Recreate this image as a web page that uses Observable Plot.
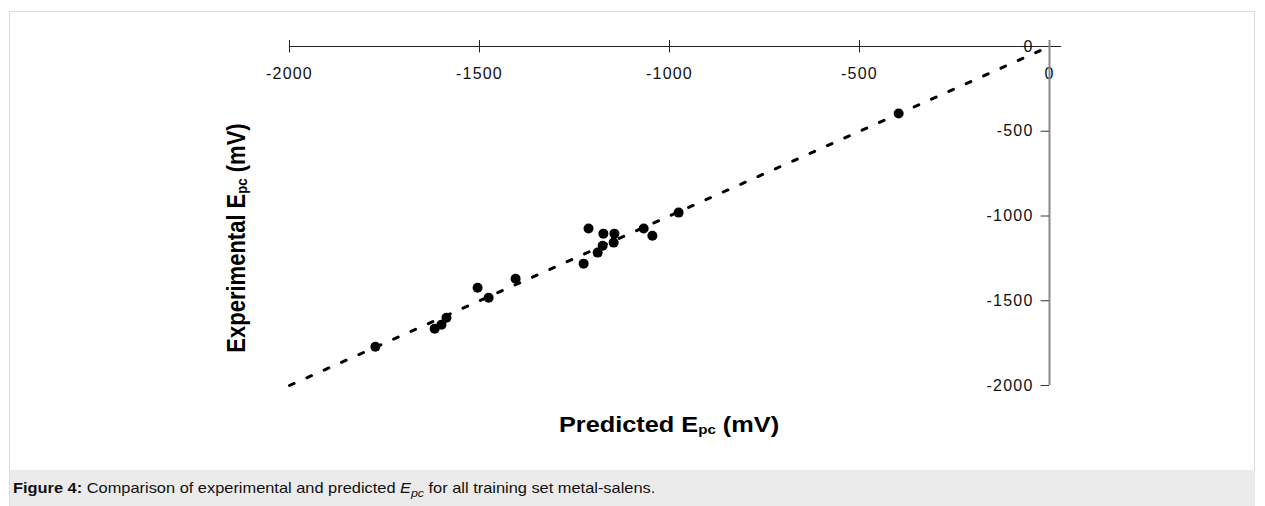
<!DOCTYPE html>
<html>
<head>
<meta charset="utf-8">
<script src="https://cdn.jsdelivr.net/npm/d3@7"></script>
<script src="https://cdn.jsdelivr.net/npm/@observablehq/plot@0.6"></script>
<style>
  html, body { margin: 0; padding: 0; background: #fff; }
  body { font-family: "Liberation Sans", Arial, sans-serif; }
  #wrap { position: relative; width: 1265px; height: 506px; overflow: hidden; }
  #frame { position: absolute; left: 9px; top: 11px; width: 1246px; height: 500px; border: 1px solid #dcdcdc; box-sizing: border-box; }
  #chart { position: absolute; left: 0; top: 0; }
  .axtitle { position: absolute; font-weight: bold; font-size: 22px; color: #000; white-space: nowrap; line-height: 1; }
  .axtitle sub { font-size: 0.6em; vertical-align: baseline; position: relative; top: 0.15em; }
  #xtitle { left: 669px; top: 425px; transform: translate(-50%, -50%) scaleX(1.15); }
  #ytitle { left: 237px; top: 238px; transform: translate(-50%, -50%) rotate(-90deg) scaleY(1.15); }
  #caption { position: absolute; left: 10px; top: 470px; width: 1245px; height: 36px; background: #ebebeb; box-sizing: border-box; }
  #captext { position: absolute; left: 3px; top: 10px; font-size: 14.5px; color: #111; white-space: nowrap; transform: scaleX(1.13); transform-origin: left center; }
  #captext sub { font-size: 0.75em; }
  svg text.tick { letter-spacing: 1.2px; }
</style>
</head>
<body>
<div id="wrap">
  <div id="frame"></div>
  <div id="chart"></div>
  <div class="axtitle" id="xtitle">Predicted E<sub>pc</sub> (mV)</div>
  <div class="axtitle" id="ytitle">Experimental E<sub>pc</sub> (mV)</div>
  <div id="caption"><div id="captext"><b>Figure 4:</b> Comparison of experimental and predicted <i>E<sub>pc</sub></i> for all training set metal-salens.</div></div>
</div>
<script>
// Predicted Epc (mV) — x values
const predicted = [-1774, -1618, -1600, -1587, -1505, -1476, -1405, -1226, -1213, -1174, -1145, -1147, -1176, -1189, -1068, -1045, -976, -397];
// Experimental Epc (mV) — y values
const experimental = [-1771, -1665, -1641, -1600, -1423, -1482, -1370, -1281, -1074, -1104, -1104, -1157, -1175, -1216, -1074, -1116, -980, -395];
// Axis ticks
const xTicks = [-2000, -1500, -1000, -500, 0];
const yTicks = [-2000, -1500, -1000, -500, 0];
// Identity (y = x) reference line end points
const identity = [-2000, 0];

const points = predicted.map((p, i) => ({ predicted: p, experimental: experimental[i] }));

const W = 1265, H = 470;
const chart = Plot.plot({
  width: W,
  height: H,
  marginLeft: 289,
  marginRight: W - 1049,
  marginTop: 46,
  marginBottom: H - 385,
  x: { domain: [-2000, 0], axis: null },
  y: { domain: [-2000, 0], axis: null },
  style: { fontFamily: "'Liberation Sans', Arial, sans-serif", fontSize: "16px", background: "transparent", color: "#000" },
  marks: [
    // top x axis (crosses at y = 0)
    Plot.ruleY([0], { x1: -2000, x2: 32, stroke: "#222", strokeWidth: 1 }),
    Plot.ruleX(xTicks.filter(d => d !== 0), { x: d => d, y1: 35, y2: -38, stroke: "#222", strokeWidth: 1 }),
    Plot.text(xTicks, { x: d => d, y: 0, dy: 27, text: d => String(d), fontSize: 16, fill: "#111", className: "tick" }),
    // right y axis (crosses at x = 0)
    Plot.ruleX([0], { y1: -2000, y2: 35, stroke: "#8a8a8a", strokeWidth: 2 }),
    Plot.ruleY(yTicks.filter(d => d !== 0), { y: d => d, x1: -22, x2: 0, stroke: "#333", strokeWidth: 1 }),
    Plot.text(yTicks, { x: 0, y: d => d, dx: -16, textAnchor: "end", text: d => String(d), fontSize: 16, fill: "#111", className: "tick" }),
    // identity line
    Plot.line(identity, { x: d => d, y: d => d, stroke: "#000", strokeWidth: 3, strokeDasharray: "5,14" }),
    // data points
    Plot.dot(points, { x: "predicted", y: "experimental", r: 5, fill: "#000", stroke: "none" })
  ]
});
d3.select(chart).selectAll("g.tick text, g[aria-label=text] text").style("letter-spacing", "1.2px");
document.getElementById("chart").appendChild(chart);
</script>
</body>
</html>
